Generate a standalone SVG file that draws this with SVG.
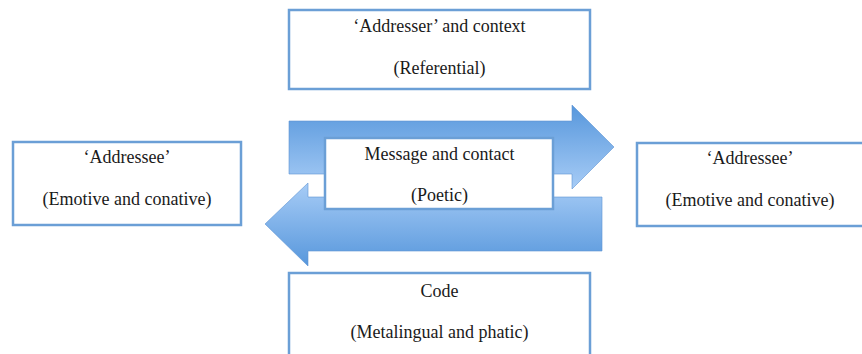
<svg xmlns="http://www.w3.org/2000/svg" width="862" height="354" viewBox="0 0 862 354">
<style>
.box{fill:#ffffff;stroke:#6b9fd6;stroke-width:2.5}
.t{font-size:18px;fill:#1a1a1a;text-anchor:middle}
.arr{stroke:#5f95d4;stroke-width:1;stroke-opacity:0.6}
</style>
<defs>
<linearGradient id="gDown" x1="0" y1="0" x2="0" y2="1">
<stop offset="0" stop-color="#5797dc"/>
<stop offset="1" stop-color="#a7ccf6"/>
</linearGradient>
<linearGradient id="gUp" x1="0" y1="0" x2="0" y2="1">
<stop offset="0" stop-color="#a7ccf6"/>
<stop offset="1" stop-color="#5797dc"/>
</linearGradient>
</defs>
<g id="connectors">
<path id="arrow-right" class="arr" fill="url(#gDown)" d="M289,121 L572,121 L572,105 L614,147 L572,189 L572,174 L289,174 Z"/>
<path id="arrow-left" class="arr" fill="url(#gUp)" d="M602,197 L308,197 L308,183 L265,224 L308,266 L308,251 L602,251 Z"/>
</g>
<g id="nodes" font-family="Liberation Serif, serif">
<g id="node-top">
<rect class="box" x="289" y="10" width="301" height="79"/>
<text class="t" x="439.5" y="32">‘Addresser’ and context</text>
<text class="t" x="439.5" y="74">(Referential)</text>
</g>
<g id="node-left">
<rect class="box" x="13" y="142" width="228" height="83"/>
<text class="t" x="127" y="163">‘Addressee’</text>
<text class="t" x="127" y="205">(Emotive and conative)</text>
</g>
<g id="node-right">
<rect class="box" x="637" y="143" width="240" height="83"/>
<text class="t" x="750" y="164">‘Addressee’</text>
<text class="t" x="750" y="206">(Emotive and conative)</text>
</g>
<g id="node-middle">
<rect class="box" x="325" y="138" width="228" height="71"/>
<text class="t" x="439.5" y="160">Message and contact</text>
<text class="t" x="439.5" y="201">(Poetic)</text>
</g>
<g id="node-bottom">
<rect class="box" x="289" y="273" width="301" height="95"/>
<text class="t" x="439.5" y="297">Code</text>
<text class="t" x="439.5" y="338">(Metalingual and phatic)</text>
</g>
</g>
</svg>
